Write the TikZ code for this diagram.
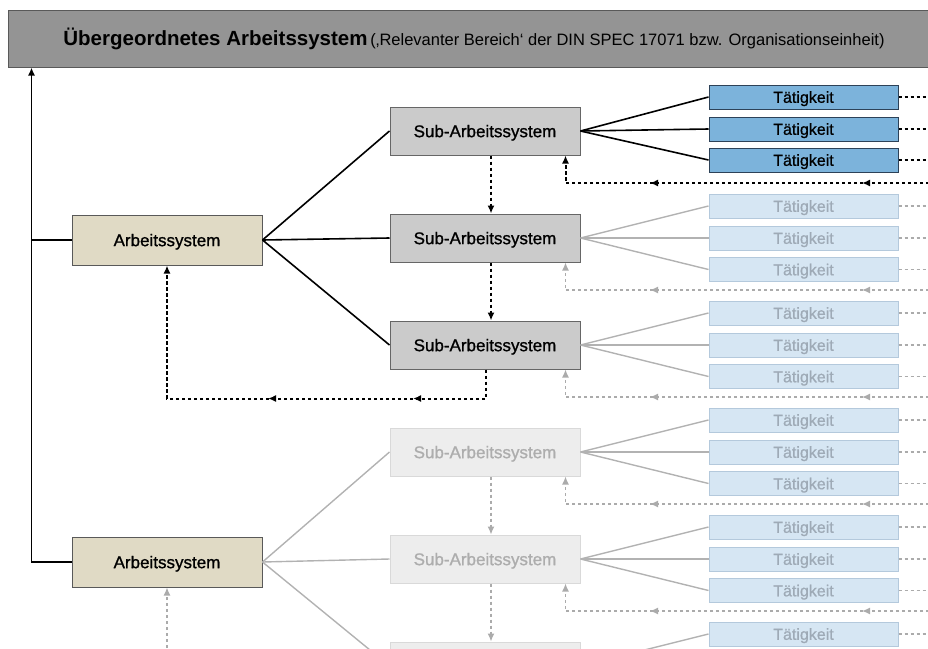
\documentclass[tikz,border=0pt]{standalone}
\usepackage{fontspec}
\setmainfont{Liberation Sans}
\usetikzlibrary{arrows.meta,decorations.markings}

\definecolor{asbeige}{RGB}{224,218,197}
\definecolor{subgrau}{RGB}{203,203,203}
\definecolor{blau}{RGB}{124,179,219}
\definecolor{blaurand}{RGB}{45,66,88}
\definecolor{hellblau}{RGB}{214,230,243}
\definecolor{hellblaurand}{RGB}{180,201,220}
\definecolor{hellblautext}{RGB}{158,170,182}

\begin{document}
\begin{tikzpicture}[x=1pt,y=-1pt,
    kopf/.style={draw=black!65,fill=black!42,line width=1pt,minimum width=932pt,minimum height=57pt,inner sep=0pt},
    as/.style={draw=black!65,fill=asbeige,line width=1pt,minimum width=190pt,minimum height=50pt,text depth=0pt,
        font=\fontsize{17}{20}\selectfont\addfontfeature{FakeBold=1}},
    sub/.style={draw=black!60,fill=subgrau,line width=1pt,minimum width=190pt,minimum height=48pt,text depth=0pt,
        font=\fontsize{17}{20}\selectfont\addfontfeature{FakeBold=1}},
    subblass/.style={sub,draw=black!15,fill=black!7,text=black!32},
    taet/.style={draw=blaurand,fill=blau,line width=1pt,minimum width=189pt,minimum height=24pt,inner sep=0pt,text depth=0pt,
        font=\fontsize{16}{19}\selectfont\addfontfeature{FakeBold=0.8}},
    taetblass/.style={taet,draw=hellblaurand,fill=hellblau,text=hellblautext},
    linie/.style={line width=1.6pt},
    linieblass/.style={line width=1.4pt,black!30},
    punkt/.style={line width=2pt,dash pattern=on 3.5pt off 2.5pt},
    punktblass/.style={line width=1.3pt,black!33,dash pattern=on 3pt off 3pt},
    pfeil/.style={-{Latex[length=8pt,width=7pt]}},
    mitte/.style 2 args={postaction={decorate},decoration={markings,
        mark=at position #1 with {\arrow{Latex[length=8pt,width=7pt]}},
        mark=at position #2 with {\arrow{Latex[length=8pt,width=7pt]}}}},
]
    \useasboundingbox (0,0) rectangle (928,648);
    \clip (0,0) rectangle (928,648);

    % oberes System
    \node[kopf] (kopf) at (474,38.5) {{\bfseries\fontsize{20.5}{24}\selectfont Übergeordnetes Arbeitssystem} \fontsize{16.5}{20}\selectfont(‚Relevanter Bereich‘ der DIN SPEC 17071 bzw. Organisationseinheit)};

    \node[as] (as1) at (167,240) {Arbeitssystem};
    \node[as] (as2) at (167,562) {Arbeitssystem};

    \draw[linie,pfeil] (as2.west) -| ([xshift=24pt]kopf.south west);
    \draw[linie] (as1.west) -- ++(-40,0);

    % Sub-Arbeitssysteme
    \foreach \k/\yy in {1/131,2/238,3/345}
        \node[sub] (s\k) at (485,\yy) {Sub-Arbeitssystem};
    \foreach \k/\yy in {4/452,5/559}
        \node[subblass] (s\k) at (485,\yy) {Sub-Arbeitssystem};
    \node[subblass] (s6) at (485,666) {};

    \foreach \k in {1,2,3}
        \draw[linie] (as1.east) -- (s\k.west);
    \foreach \k in {4,5,6}
        \draw[linieblass] (as2.east) -- (s\k.west);

    \draw[punkt,pfeil] ([xshift=6pt]s1.south) -- ([xshift=6pt]s2.north);
    \draw[punkt,pfeil] ([xshift=6pt]s2.south) -- ([xshift=6pt]s3.north);
    \draw[punkt,pfeil,mitte={102pt}{247pt}] ([xshift=1pt]s3.south) -- ++(0,29) -| (as1.south);

    \draw[punktblass,pfeil] ([xshift=6pt]s4.south) -- ([xshift=6pt]s5.north);
    \draw[punktblass,pfeil] ([xshift=6pt]s5.south) -- ([xshift=6pt]s6.north);
    \coordinate (unten) at (167,660);
    \draw[punktblass,pfeil] (unten) -- (as2.south);

    % Taetigkeiten
    \foreach \d/\n in {-34/a,-2/b,29/c}{
        \node[taet] (t1\n) at (803.5,131+\d) {Tätigkeit};
        \draw[linie] (s1.east) -- (t1\n.west);
        \draw[punkt] (t1\n.east) -- ++(40,0);
    }
    \coordinate (r1) at (935,183);
    \draw[punkt,pfeil,mitte={73pt}{285pt}] (r1) -| ([xshift=-15pt]s1.south east);

    \foreach \k/\yy in {2/238,3/345,4/452,5/559}{
        \foreach \d/\n in {-32/a,0/b,31.5/c}{
            \node[taetblass] (t\k\n) at (803.5,\yy+\d) {Tätigkeit};
            \draw[linieblass] (s\k.east) -- (t\k\n.west);
            \draw[punktblass] (t\k\n.east) -- ++(40,0);
        }
        \coordinate (r\k) at (935,\yy+52);
        \draw[punktblass,pfeil,mitte={73pt}{285pt}] (r\k) -| ([xshift=-15pt]s\k.south east);
    }
    \node[taetblass] (t6a) at (803.5,634) {Tätigkeit};
    \draw[linieblass] (s6.east) -- (t6a.west);
    \draw[punktblass] (t6a.east) -- ++(40,0);
\end{tikzpicture}
\end{document}
